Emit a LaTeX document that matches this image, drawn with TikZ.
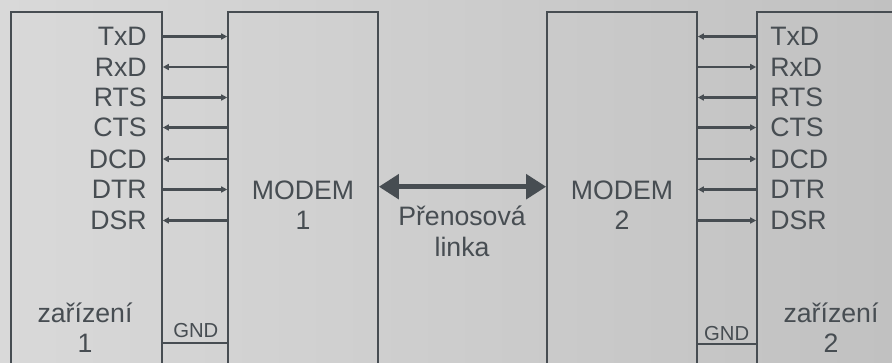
\documentclass[tikz,border=0pt]{standalone}
\usepackage{fontspec}
\setmainfont{Liberation Sans}
\usetikzlibrary{arrows.meta,fit}
\definecolor{ink}{HTML}{474D52}
\definecolor{bgl}{HTML}{D9D9D9}
\definecolor{bgr}{HTML}{C1C1C1}
\begin{document}
\begin{tikzpicture}[x=0.75pt,y=-0.75pt,
  box/.style={draw=ink,line width=1.2pt,inner sep=0pt,fit={#1}},
  sig/.style={draw=ink,line width=1.6pt,-{Triangle[length=4.5pt,width=4.5pt]}},
  gnd/.style={draw=ink,line width=1.6pt},
  big/.style={draw=ink,line width=3.8pt,{Triangle[length=15pt,width=18pt]}-{Triangle[length=15pt,width=18pt]}},
  lab/.style={text=ink,font=\fontsize{20}{22}\selectfont,inner sep=0pt},
  small/.style={text=ink,font=\fontsize{15.2}{18}\selectfont,inner sep=0pt}]
\useasboundingbox (0,0) rectangle (892,362);
\shade[left color=bgl,right color=bgr] (0,0) rectangle (892,362);
\begin{scope}
\clip (0,0) rectangle (892,362);
\node[box={(11,12) (162,400)}] (dev1) {};
\node[box={(228,12) (378,400)}] (mod1) {};
\node[box={(547,12) (697,400)}] (mod2) {};
\node[box={(757,12) (910,400)}] (dev2) {};
\foreach \n/\y/\d in {TxD/36.5/1,RxD/67/0,RTS/97.5/1,CTS/127.5/0,DCD/159/0,DTR/189.5/1,DSR/220.5/0}{
  \coordinate (r\n) at (0,\y);
  \node[lab,anchor=base east] (la\n) at (147,\y+9) {\n};
  \node[lab,anchor=base west] (lb\n) at (770,\y+9) {\n};
  \ifnum\d=1
    \draw[sig] (dev1.east |- r\n) -- (mod1.west |- r\n);
    \draw[sig] (dev2.west |- r\n) -- (mod2.east |- r\n);
  \else
    \draw[sig] (mod1.west |- r\n) -- (dev1.east |- r\n);
    \draw[sig] (mod2.east |- r\n) -- (dev2.west |- r\n);
  \fi
}
\coordinate (lk) at (0,186.7);
\draw[big] (mod1.east |- lk) -- (mod2.west |- lk);
\coordinate (g1) at (0,342.7);
\coordinate (g2) at (0,344);
\draw[gnd] (dev1.east |- g1) -- (mod1.west |- g1);
\draw[gnd] (mod2.east |- g2) -- (dev2.west |- g2);
\node[small,anchor=base] (gnda) at (195.8,337.3) {GND};
\node[small,anchor=base] (gndb) at (726.7,340.7) {GND};
\node[lab,anchor=base] (m1a) at (303,199.3) {MODEM};
\node[lab,anchor=base] (m1b) at (303,229.3) {1};
\node[lab,anchor=base] (m2a) at (622,199.3) {MODEM};
\node[lab,anchor=base] (m2b) at (622,229.3) {2};
\node[lab,anchor=base] (pa) at (462,225) {Přenosová};
\node[lab,anchor=base] (pb) at (462,256.7) {linka};
\node[lab,anchor=base] (z1a) at (85,322.7) {zařízení};
\node[lab,anchor=base] (z1b) at (85,352.7) {1};
\node[lab,anchor=base] (z2a) at (831,322.7) {zařízení};
\node[lab,anchor=base] (z2b) at (831,352.7) {2};
\end{scope}
\end{tikzpicture}
\end{document}
